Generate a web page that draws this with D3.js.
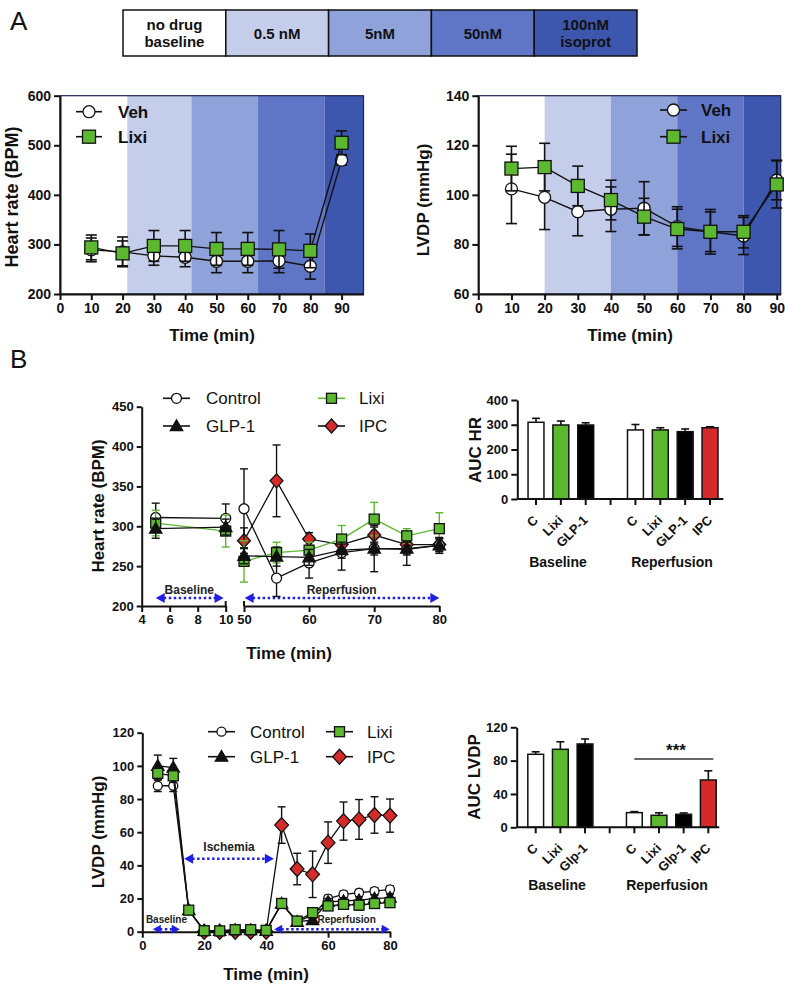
<!DOCTYPE html>
<html><head><meta charset="utf-8">
<script src="https://cdn.jsdelivr.net/npm/d3@7"></script>
<style>body{margin:0;background:#fff}svg{display:block}</style>
</head><body><svg id="c" width="785" height="986"></svg>
<script>
// ---------------- DATA ----------------
const concLabels = [["no drug","baseline"],["0.5 nM"],["5nM"],["50nM"],["100nM","isoprot"]];
const timeA = [10,20,30,40,50,60,70,80,90];
const hrVeh = [289,285,277,274,266,266,267,256,470];
const hrVehErr = [24,30,19,19,23,23,24,26,10];
const hrLixi = [294,282,297,297,291,291,290,287,505];
const hrLixiErr = [25,25,31,31,33,33,38,34,24];
const bandsHR = [0,21.5,42,63.3,84.5,97];
const lvVeh = [102.4,99,93.2,94.2,94.6,87.2,85.1,83.4,106];
const lvVehErr = [14,13,9.7,9,10.7,8,9,7.5,8];
const lvLixi = [110.6,111.2,103.6,97.9,91.2,86.2,85.1,85.1,104.2];
const lvLixiErr = [9,9.6,8,8,7.4,8,8,6.5,9.5];
const bandsLV = [0,20,40,60,80,91.2];

const timeBase = [5,10];
const timeRep = [50,55,60,65,70,75,80];
const hrCtrlBase = [311,310], hrCtrlBaseErr = [18,18];
const hrCtrlRep = [322,235,254,267,272,271,276], hrCtrlRepErr = [50,23,19,22,8,20,8];
const hrGlpBase = [297,299], hrGlpBaseErr = [12,10];
const hrGlpRep = [263,262,261,270,272,272,276], hrGlpRepErr = [10,12,10,10,29,8,10];
const hrLixiBase = [304,294], hrLixiBaseErr = [16,20];
const hrLixiRep = [256,267,270,284,309,288,297], hrLixiRepErr = [26,13,10,17,21,9,20];
const hrIpcRep = [282,357,284,277,289,277,277], hrIpcRepErr = [16,45,8,10,10,10,8];

const timeL = [5,10,15,20,25,30,35,40,45,50,55,60,65,70,75,80];
const lvCtrl = [88,88,13,0.5,0.5,1,1,0.5,17,6,10,20,22.5,23.5,24.5,25.5];
const lvCtrlErr = [3.5,3.5,2,0,0,0,0,0,2,1.5,2,2,2,2,2,2];
const lvGlp = [100,99,13,0.5,0.5,1,1,0.5,17,6,7,18,18.5,19,20,20.5];
const lvGlpErr = [6.5,5.5,2,0,0,0,0,0,2,1.5,2,2,2,2,2,2];
const lvLix = [95.5,94,13,0.6,0.5,1.2,1.2,0.8,17,6.4,11.5,15.5,16.5,16,17,17.5];
const lvLixErr = [4,4,2,0,0,0,0,0,2,1.5,2,2.5,2.5,3,2.5,2.5];
const timeIpc = [20,25,30,35,40,45,50,55,60,65,70,75,80];
const lvIpc = [0,0,0,0,0,64.3,37.8,34.6,53.7,66.7,67.7,70.4,70];
const lvIpcErr = [0,0,0,0,0,11,9.5,14,12.5,11.5,12,11,10];

const aucCats = ["C","Lixi","GLP-1","","C","Lixi","GLP-1","IPC"];
const aucCatsLV = ["C","Lixi","Glp-1","","C","Lixi","Glp-1","IPC"];
const aucHR = [310,299,299,null,279,279,272,288];
const aucHRErr = [16,16,9,null,22,9,11,4];
const aucLV = [87.6,93.6,100,null,17.6,14.4,15.6,56.8];
const aucLVErr = [3,9,6,null,1.2,3,1.6,11];
const groupLabels = ["Baseline","Reperfusion"];

// ---------------- STYLE ----------------
const F = '"Liberation Sans", Arial, Helvetica, sans-serif';
const bandColors = ["#ffffff","#c4cdea","#8fa2d9","#5f76c6","#3e57ae"];
const GREEN = "#5cb82e", RED = "#d42a2a", BLUE = "#1f1fe6";
const barColors = ["#ffffff",GREEN,"#000000",null,"#ffffff",GREEN,"#000000",RED];
const fmt = d3.format("d");

const svg = d3.select("#c");

function text(x,y,s,opt={}){
  const t = svg.append("text").attr("x",x).attr("y",y).text(s)
    .attr("font-family",F).attr("font-size",opt.fs||14)
    .attr("font-weight",opt.fw||"bold").attr("fill",opt.fill||"#111")
    .attr("text-anchor",opt.anchor||"start");
  if(opt.rot!==undefined) t.attr("transform",`rotate(${opt.rot},${x},${y})`);
  return t;
}
function styleAxis(g,fs){
  g.attr("font-family",F).attr("font-size",fs).attr("font-weight","bold");
  g.select(".domain").attr("stroke-width",2).attr("stroke","#111");
  g.selectAll(".tick line").attr("stroke-width",2).attr("stroke","#111");
  g.selectAll(".tick text").attr("fill","#111");
}
function axisLeft(scale,x,ticks,fs,size=6){
  const g = svg.append("g").attr("transform",`translate(${x},0)`)
    .call(d3.axisLeft(scale).tickValues(ticks).tickFormat(fmt).tickSize(size).tickSizeOuter(0).tickPadding(3));
  styleAxis(g,fs); return g;
}
function axisBottom(scale,y,ticks,fs,size=6){
  const g = svg.append("g").attr("transform",`translate(0,${y})`)
    .call(d3.axisBottom(scale).tickValues(ticks).tickFormat(fmt).tickSize(size).tickSizeOuter(0).tickPadding(3));
  styleAxis(g,fs); return g;
}
function mk(g,type,x,y,s,fill,stroke="#111",sw=1.3){
  let e;
  if(type==="circle") e = g.append("circle").attr("cx",x).attr("cy",y).attr("r",s);
  else if(type==="square") e = g.append("rect").attr("x",x-s/2).attr("y",y-s/2).attr("width",s).attr("height",s);
  else if(type==="triangle") e = g.append("path").attr("d",`M${x},${y-s*0.62}L${x+s*0.62},${y+s*0.45}L${x-s*0.62},${y+s*0.45}Z`);
  else if(type==="diamond") e = g.append("path").attr("d",`M${x},${y-s}L${x+s*0.92},${y}L${x},${y+s}L${x-s*0.92},${y}Z`);
  e.attr("fill",fill).attr("stroke",stroke).attr("stroke-width",sw);
}
function series(xs,ys,times,vals,errs,o){
  const g = svg.append("g");
  const pts = times.map((t,i)=>({t,v:vals[i],e:errs[i]}));
  const line = d3.line().x(d=>xs(d.t)).y(d=>ys(d.v));
  g.append("path").datum(pts).attr("d",line).attr("fill","none")
    .attr("stroke",o.lc||"#111").attr("stroke-width",o.lw||1.4);
  const cap = o.cap||10;
  pts.forEach(p=>{
    if(!p.e) return;
    const x=xs(p.t), a=ys(p.v-p.e), b=ys(p.v+p.e);
    const ec=o.ec||"#111", w=o.ew||1.6;
    g.append("line").attr("x1",x).attr("x2",x).attr("y1",a).attr("y2",b).attr("stroke",ec).attr("stroke-width",w);
    [a,b].forEach(yy=>g.append("line").attr("x1",x-cap/2).attr("x2",x+cap/2).attr("y1",yy).attr("y2",yy).attr("stroke",ec).attr("stroke-width",w));
  });
  pts.forEach(p=>mk(g,o.type,xs(p.t),ys(p.v),o.size,o.fill,o.stroke||"#111",o.sw||1.3));
}
function legendItem(x1,x2,y,type,size,fill,lc,label,tx,fs,fw){
  const g = svg.append("g");
  g.append("line").attr("x1",x1).attr("x2",x2).attr("y1",y).attr("y2",y).attr("stroke",lc).attr("stroke-width",1.6);
  mk(g,type,(x1+x2)/2,y,size,fill);
  text(tx,y+fs*0.36,label,{fs,fw});
}
function arrow(x1,x2,y,hl=9,hh=5,w=2.6,dash="2.5,2.5"){
  const g = svg.append("g");
  g.append("line").attr("x1",x1+hl-1).attr("x2",x2-hl+1).attr("y1",y).attr("y2",y)
    .attr("stroke",BLUE).attr("stroke-width",w).attr("stroke-dasharray",dash);
  g.append("path").attr("d",`M${x1},${y}L${x1+hl},${y-hh}L${x1+hl},${y+hh}Z`).attr("fill",BLUE);
  g.append("path").attr("d",`M${x2},${y}L${x2-hl},${y-hh}L${x2-hl},${y+hh}Z`).attr("fill",BLUE);
}

// ---------------- PANEL LABELS ----------------
text(10,30,"A",{fs:26,fw:"normal"});
text(10,368,"B",{fs:26,fw:"normal"});

// ---------------- TOP CONCENTRATION BOX ----------------
{
  const bx = d3.scaleLinear([0,5],[123,637]);
  const y0=10, y1=56;
  concLabels.forEach((lab,i)=>{
    svg.append("rect").attr("x",bx(i)).attr("y",y0).attr("width",bx(i+1)-bx(i)).attr("height",y1-y0)
      .attr("fill",bandColors[i]).attr("stroke","#111").attr("stroke-width",1.5);
    const cx=(bx(i)+bx(i+1))/2, cy=(y0+y1)/2;
    if(lab.length===1) text(cx,cy+5.5,lab[0],{fs:15,anchor:"middle"});
    else { text(cx,cy-3,lab[0],{fs:15,anchor:"middle"}); text(cx,cy+14,lab[1],{fs:15,anchor:"middle"}); }
  });
}

// ---------------- PANEL A LEFT (HR) ----------------
{
  const xs = d3.scaleLinear([0,97],[60,363.5]);
  const ys = d3.scaleLinear([200,600],[294,95.7]);
  for(let i=0;i<5;i++){
    svg.append("rect").attr("x",xs(bandsHR[i])).attr("y",ys(600)).attr("width",xs(bandsHR[i+1])-xs(bandsHR[i]))
      .attr("height",ys(200)-ys(600)).attr("fill",bandColors[i]);
  }
  svg.append("rect").attr("x",xs(0)).attr("y",ys(600)).attr("width",xs(97)-xs(0)).attr("height",ys(200)-ys(600))
    .attr("fill","none").attr("stroke","#1c2550").attr("stroke-width",1.2);
  axisLeft(ys,xs(0),[200,300,400,500,600],14);
  axisBottom(xs,ys(200),d3.range(0,91,10),14);
  series(xs,ys,timeA,hrVeh,hrVehErr,{type:"circle",size:6,fill:"#fff",cap:11});
  series(xs,ys,timeA,hrLixi,hrLixiErr,{type:"square",size:13,fill:GREEN,cap:11});
  legendItem(76,102,111.7,"circle",6,"#fff","#111","Veh",118,17,"bold");
  legendItem(76,102,136.7,"square",13,GREEN,"#111","Lixi",118,17,"bold");
  text(18,197,"Heart rate (BPM)",{fs:18,anchor:"middle",rot:-90});
  text(212,341,"Time (min)",{fs:17,anchor:"middle"});
}

// ---------------- PANEL A RIGHT (LVDP) ----------------
{
  const xs = d3.scaleLinear([0,91.2],[478.3,780.7]);
  const ys = d3.scaleLinear([60,140],[294,95.7]);
  for(let i=0;i<5;i++){
    svg.append("rect").attr("x",xs(bandsLV[i])).attr("y",ys(140)).attr("width",xs(bandsLV[i+1])-xs(bandsLV[i]))
      .attr("height",ys(60)-ys(140)).attr("fill",bandColors[i]);
  }
  svg.append("rect").attr("x",xs(0)).attr("y",ys(140)).attr("width",xs(91.2)-xs(0)).attr("height",ys(60)-ys(140))
    .attr("fill","none").attr("stroke","#1c2550").attr("stroke-width",1.2);
  axisLeft(ys,xs(0),[60,80,100,120,140],14);
  axisBottom(xs,ys(60),d3.range(0,91,10),14);
  series(xs,ys,timeA,lvVeh,lvVehErr,{type:"circle",size:6,fill:"#fff",cap:11});
  series(xs,ys,timeA,lvLixi,lvLixiErr,{type:"square",size:13,fill:GREEN,cap:11});
  legendItem(660,687,110,"circle",6,"#fff","#111","Veh",701,17,"bold");
  legendItem(660,687,136.7,"square",13,GREEN,"#111","Lixi",701,17,"bold");
  text(429,200,"LVDP (mmHg)",{fs:17,anchor:"middle",rot:-90});
  text(630,341,"Time (min)",{fs:17,anchor:"middle"});
}

// ---------------- PANEL B HR (broken axis) ----------------
{
  const ys = d3.scaleLinear([200,450],[606,406.7]);
  const xa = d3.scaleLinear([4,10],[141.7,225.7]);
  const xb = d3.scaleLinear([50,80],[244,439.3]);
  axisLeft(ys,141.7,[200,250,300,350,400,450],13,5);
  axisBottom(xa,ys(200),[4,6,8,10],13,6);
  axisBottom(xb,ys(200),[50,60,70,80],13,6);
  [xa(10),xb(50)].forEach(x=>svg.append("line").attr("x1",x).attr("x2",x).attr("y1",ys(200)-5).attr("y2",ys(200))
    .attr("stroke","#111").attr("stroke-width",2));
  arrow(xa(5),xa(9.85),ys(210));
  arrow(xb(50.1),xb(80),ys(210));
  text(xa(7.4),ys(210)-4,"Baseline",{fs:12,anchor:"middle",fill:"#222"});
  text(xb(65),ys(210)-4,"Reperfusion",{fs:12,anchor:"middle",fill:"#222"});
  const so = {cap:8,lw:1.3,ew:1.4};
  series(xb,ys,timeRep,hrIpcRep,hrIpcRepErr,{...so,type:"diamond",size:7,fill:RED});
  series(xa,ys,timeBase,hrCtrlBase,hrCtrlBaseErr,{...so,type:"circle",size:5,fill:"#fff"});
  series(xb,ys,timeRep,hrCtrlRep,hrCtrlRepErr,{...so,type:"circle",size:5,fill:"#fff"});
  series(xa,ys,timeBase,hrLixiBase,hrLixiBaseErr,{...so,type:"square",size:10,fill:GREEN,lc:GREEN,ec:GREEN});
  series(xb,ys,timeRep,hrLixiRep,hrLixiRepErr,{...so,type:"square",size:10,fill:GREEN,lc:GREEN,ec:GREEN});
  series(xa,ys,timeBase,hrGlpBase,hrGlpBaseErr,{...so,type:"triangle",size:10,fill:"#111"});
  series(xb,ys,timeRep,hrGlpRep,hrGlpRepErr,{...so,type:"triangle",size:10,fill:"#111"});
  legendItem(163,190,398.3,"circle",5,"#fff","#111","Control",206,17,"normal");
  legendItem(163,190,426,"triangle",10,"#111","#111","GLP-1",206,17,"normal");
  legendItem(318,345,398.3,"square",10,GREEN,GREEN,"Lixi",359,17,"normal");
  legendItem(318,345,426,"diamond",7,RED,"#111","IPC",359,17,"normal");
  text(104,506,"Heart rate (BPM)",{fs:17,anchor:"middle",rot:-90});
  text(289,659,"Time (min)",{fs:17,anchor:"middle"});
}

// ---------------- AUC bar charts ----------------
function aucChart(vals,errs,cats,y0,y1,dom,ticks,axX,axX2,c0,step,ytitle,ytx,yty,labY,grpY,grpX){
  const ys = d3.scaleLinear(dom,[y0,y1]);
  const bw = step*0.64;
  const cx = i => c0 + i*step;
  axisLeft(ys,axX,ticks,13,6);
  vals.forEach((v,i)=>{
    if(v==null) return;
    const x=cx(i);
    const top=ys(v+errs[i]);
    svg.append("line").attr("x1",x).attr("x2",x).attr("y1",ys(v)).attr("y2",top).attr("stroke","#111").attr("stroke-width",1.6);
    svg.append("line").attr("x1",x-4).attr("x2",x+4).attr("y1",top).attr("y2",top).attr("stroke","#111").attr("stroke-width",1.6);
    svg.append("rect").attr("x",x-bw/2).attr("y",ys(v)).attr("width",bw).attr("height",ys(0)-ys(v))
      .attr("fill",barColors[i]).attr("stroke","#111").attr("stroke-width",1.5);
  });
  svg.append("line").attr("x1",axX).attr("x2",axX2).attr("y1",ys(0)).attr("y2",ys(0)).attr("stroke","#111").attr("stroke-width",2);
  cats.forEach((c,i)=>{
    svg.append("line").attr("x1",cx(i)).attr("x2",cx(i)).attr("y1",ys(0)).attr("y2",ys(0)+6).attr("stroke","#111").attr("stroke-width",2);
    if(c) text(cx(i)+3,labY,c,{fs:13,anchor:"end",rot:-45});
  });
  text(grpX[0],grpY,groupLabels[0],{fs:14,anchor:"middle"});
  text(grpX[1],grpY,groupLabels[1],{fs:14,anchor:"middle"});
  text(ytx,yty,ytitle,{fs:17,anchor:"middle",rot:-90});
  return {ys,cx};
}
aucChart(aucHR,aucHRErr,aucCats,499,400,[0,400],[0,100,200,300,400],517.3,723.3,536,24.86,"AUC HR",481,450,521,567,[558,672]);
{
  aucChart(aucLV,aucLVErr,aucCatsLV,827.3,727.3,[0,120],[0,40,80,120],516.7,719.3,535.7,24.66,"AUC LVDP",480,777,849,890,[557,667]);
  svg.append("line").attr("x1",634.3).attr("x2",713.3).attr("y1",759).attr("y2",759).attr("stroke","#333").attr("stroke-width",1.6);
  text(676,756,"***",{fs:17,anchor:"middle"});
}

// ---------------- PANEL B LVDP ----------------
{
  const xs = d3.scaleLinear([0,80],[142.3,390]);
  const ys = d3.scaleLinear([0,120],[931.7,732.7]);
  axisLeft(ys,142.3,[0,20,40,60,80,100,120],13,5);
  axisBottom(xs,ys(0),[0,20,40,60,80],13,6);
  arrow(xs(13.5),xs(42.5),ys(44));
  text(xs(28),ys(44)-8,"Ischemia",{fs:12,anchor:"middle",fill:"#222"});
  arrow(xs(3.4),xs(12.1),ys(1.5),8,4.5,2.4);
  text(xs(7.8),ys(1.5)-6,"Baseline",{fs:10,anchor:"middle",fill:"#222"});
  arrow(xs(42.6),xs(79.9),ys(1.5),8,4.5,2.4);
  text(xs(66),ys(1.5)-6,"Reperfusion",{fs:10,anchor:"middle",fill:"#222"});
  const so = {cap:8,lw:1.3,ew:1.4};
  series(xs,ys,timeIpc,lvIpc,lvIpcErr,{...so,type:"diamond",size:7.5,fill:RED});
  series(xs,ys,timeL,lvCtrl,lvCtrlErr,{...so,type:"circle",size:4.5,fill:"#fff"});
  series(xs,ys,timeL,lvGlp,lvGlpErr,{...so,type:"triangle",size:10,fill:"#111"});
  series(xs,ys,timeL,lvLix,lvLixErr,{...so,type:"square",size:10,fill:GREEN});
  legendItem(208,235,731.7,"circle",4.5,"#fff","#111","Control",250,17,"normal");
  legendItem(208,235,756.7,"triangle",10,"#111","#111","GLP-1",250,17,"normal");
  legendItem(326,353,731.7,"square",10,GREEN,"#111","Lixi",367,17,"normal");
  legendItem(326,353,756.7,"diamond",7.5,RED,"#111","IPC",367,17,"normal");
  text(104,832,"LVDP (mmHg)",{fs:17,anchor:"middle",rot:-90});
  text(266,980,"Time (min)",{fs:17,anchor:"middle"});
}
</script></body></html>
